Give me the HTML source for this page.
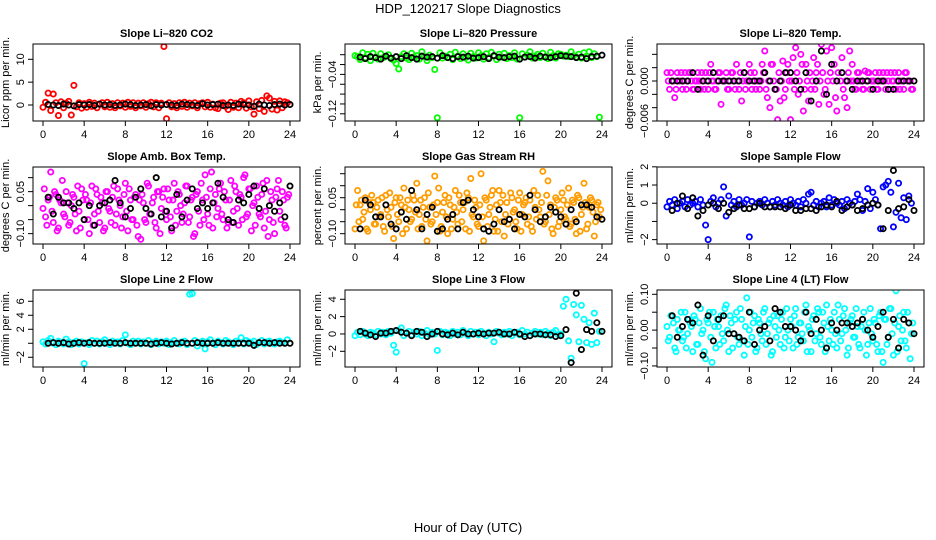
<!DOCTYPE html>
<html><head><meta charset="utf-8"><style>
html,body{margin:0;padding:0;background:#fff;}
svg{display:block;font-family:"Liberation Sans",sans-serif;}
</style></head><body>
<svg id="chart" width="936" height="540" viewBox="0 0 936 540" xmlns="http://www.w3.org/2000/svg">
<rect x="0" y="0" width="936" height="540" fill="#fff"/>
<text x="468" y="13" text-anchor="middle" font-size="13">HDP_120217  Slope Diagnostics</text>
<text x="468" y="532" text-anchor="middle" font-size="13">Hour of Day (UTC)</text>
</svg>
<script>
const hoursC = [0,0.25,0.5,0.75,1,1.25,1.5,1.75,2,2.25,2.5,2.75,3,3.25,3.5,3.75,4,4.25,4.5,4.75,5,5.25,5.5,5.75,6,6.25,6.5,6.75,7,7.25,7.5,7.75,8,8.25,8.5,8.75,9,9.25,9.5,9.75,10,10.25,10.5,10.75,11,11.25,11.5,11.75,12,12.25,12.5,12.75,13,13.25,13.5,13.75,14,14.25,14.5,14.75,15,15.25,15.5,15.75,16,16.25,16.5,16.75,17,17.25,17.5,17.75,18,18.25,18.5,18.75,19,19.25,19.5,19.75,20,20.25,20.5,20.75,21,21.25,21.5,21.75,22,22.25,22.5,22.75,23,23.25,23.5,23.75];
const hoursC2 = [0.125,0.375,0.625,0.875,1.125,1.375,1.625,1.875,2.125,2.375,2.625,2.875,3.125,3.375,3.625,3.875,4.125,4.375,4.625,4.875,5.125,5.375,5.625,5.875,6.125,6.375,6.625,6.875,7.125,7.375,7.625,7.875,8.125,8.375,8.625,8.875,9.125,9.375,9.625,9.875,10.125,10.375,10.625,10.875,11.125,11.375,11.625,11.875,12.125,12.375,12.625,12.875,13.125,13.375,13.625,13.875,14.125,14.375,14.625,14.875,15.125,15.375,15.625,15.875,16.125,16.375,16.625,16.875,17.125,17.375,17.625,17.875,18.125,18.375,18.625,18.875,19.125,19.375,19.625,19.875,20.125,20.375,20.625,20.875,21.125,21.375,21.625,21.875,22.125,22.375,22.625,22.875,23.125,23.375,23.625,23.875];
const hoursK = [0.5,1,1.5,2,2.5,3,3.5,4,4.5,5,5.5,6,6.5,7,7.5,8,8.5,9,9.5,10,10.5,11,11.5,12,12.5,13,13.5,14,14.5,15,15.5,16,16.5,17,17.5,18,18.5,19,19.5,20,20.5,21,21.5,22,22.5,23,23.5,24];
const xTicks = [0,4,8,12,16,20,24];

const co2C = [-0.5,0.6,2.6,-1.2,2.4,0.5,-2.3,0.7,-0.6,0.4,0.8,-2.2,4.3,-0.4,0.5,-0.7,0.3,-0.5,0.6,-0.3,0.4,-0.6,0.2,0.5,-0.4,0.6,-0.5,0.3,-0.6,0.5,-0.2,0.4,-0.5,0.6,-0.3,0.5,-0.6,0.4,-0.2,0.5,-0.5,0.3,0.6,-0.4,0.5,-0.6,0.4,12.8,-3.0,0.5,-0.4,0.3,-0.6,0.5,-0.3,0.6,-0.5,0.4,-0.2,0.5,-0.6,0.3,0.5,-0.4,0.6,-0.5,0.2,-0.6,-0.8,0.4,0.5,-0.3,-1.0,0.6,-0.5,0.4,-0.6,0.8,0.5,-0.7,0.9,-0.4,-2.0,0.7,-0.8,1.0,-1.4,2.0,1.5,-0.9,0.8,-1.1,0.9,-0.6,0.7,0.5];
const co2K = [0.1,0.0,-0.1,0.2,0.0,-0.2,0.1,0.0,0.1,-0.1,0.2,0.0,0.1,-0.1,0.0,0.2,0.1,-0.1,0.0,0.1,-0.2,0.1,0.0,0.1,0.0,-0.1,0.2,0.1,0.0,-0.1,0.3,0.0,0.1,0.2,-0.1,0.0,-0.1,0.2,0.1,0.0,-0.3,0.2,0.0,-0.1,0.1,0.2,0.0,0.1];
const presC = [-0.002,-0.004,-0.010,0.004,-0.006,0.001,-0.012,0.003,-0.005,-0.009,0.002,-0.006,-0.003,0.000,-0.008,-0.011,-0.018,-0.029,-0.004,0.002,-0.007,-0.010,0.003,-0.005,-0.002,-0.009,0.006,-0.004,-0.012,-0.001,-0.006,-0.030,-0.128,0.004,-0.007,-0.003,-0.005,0.001,-0.010,0.005,-0.003,-0.008,0.002,-0.006,-0.011,0.003,-0.004,-0.007,0.004,-0.002,-0.009,0.002,-0.006,0.005,-0.003,-0.010,0.001,-0.005,0.003,-0.008,-0.002,-0.006,0.004,-0.009,-0.128,0.002,-0.005,-0.001,0.006,-0.007,-0.003,0.001,-0.006,0.003,-0.004,-0.008,0.005,-0.002,-0.007,0.002,0.001,-0.003,-0.001,-0.004,0.006,-0.002,-0.005,0.001,-0.007,0.004,-0.003,0.006,-0.006,0.002,-0.004,-0.127];
const presK = [-0.005,-0.008,-0.004,-0.006,-0.009,-0.003,-0.007,-0.004,-0.008,-0.002,-0.006,-0.009,-0.003,-0.005,-0.004,-0.007,-0.002,-0.006,-0.008,-0.004,-0.005,-0.003,-0.007,-0.006,-0.004,-0.008,-0.002,-0.005,-0.006,-0.004,-0.003,-0.009,-0.005,-0.004,-0.007,-0.003,-0.005,-0.006,-0.004,-0.002,-0.003,-0.004,-0.006,-0.005,-0.008,-0.004,-0.003,-0.001];
const tempC = [0.00125,-0.00125,0,-0.0025,0.00125,0,-0.00125,0.00125,0,0.00125,-0.00125,0,0.00125,-0.00125,0,0.00125,-0.00125,0.0025,0,-0.00125,0.00125,-0.0035,0,0.00125,-0.00125,0.00125,0,0.0025,-0.00125,-0.003,0.00125,0,0.0025,-0.00125,0.00125,0,-0.00125,0.0025,0.0045,-0.0025,-0.004,0.0025,-0.00125,-0.0058,-0.003,0.003,-0.00125,0.0025,-0.0058,0.0035,0.005,-0.002,0.004,-0.0045,0.0025,-0.003,-0.00125,0.0035,0.00125,-0.0035,0.0055,-0.002,0.0045,-0.0035,0.005,0.0025,-0.0045,0.006,0.0035,-0.0025,-0.004,0.0045,0.0025,-0.00125,0.00125,0,-0.00125,0.0015,0.00125,-0.00125,0,0.00125,-0.00125,0,0.00125,-0.00125,0,0.00125,0,-0.00125,0.00125,0,-0.00125,0.00125,0,-0.00125];
const tempC2 = [0,0.00125,0,-0.00125,0,0.00125,0,-0.00125,0.00125,0,-0.00125,0,0,0.00125,-0.00125,0,0.00125,0,-0.00125,0,0.00125,0,0,-0.00125,0,0.00125,-0.00125,0,0.00125,0,-0.00125,0,0.00125,0,-0.00125,0,0,0.00125,-0.00125,0,0.0025,0,-0.00125,0.00125,0,-0.0025,0.00125,0,0,-0.00125,0.00125,0,0.0025,-0.00125,0,0.00125,0,-0.00125,0.0025,0,0.00125,-0.00125,0,0.00125,0,-0.0025,0.00125,0,-0.00125,0,0.00125,0,0,-0.00125,0.00125,0,-0.00125,0,0.00125,0,0,-0.00125,0.00125,0,0,0.00125,-0.00125,0,0.00125,0,-0.00125,0,0.00125,0,0,-0.00125];
const tempK = [0,0,0,0,0.00125,-0.00125,0,0,0.00125,0,0,0,0,0,0.00125,0,0,0,0.00125,0,-0.00125,0,0.00125,0.00125,0,-0.00125,0.00125,-0.003,0,0.0045,-0.002,0.0025,0,0.00125,0,-0.00125,0,0,0,-0.00125,0,0,-0.00125,-0.00125,0,0,0,0];
const ambC = [-0.01,-0.04,0.02,0.12,-0.06,0.04,-0.08,0.01,-0.03,0.05,-0.07,0.00,0.03,-0.09,-0.02,0.06,-0.05,0.02,-0.10,0.07,-0.03,0.04,-0.06,0.01,-0.08,0.05,-0.02,0.03,-0.07,0.06,0.00,-0.04,0.08,-0.09,0.02,-0.05,0.04,-0.11,-0.12,0.01,-0.06,0.07,-0.03,0.03,-0.08,0.05,-0.01,0.06,-0.05,0.02,-0.09,0.08,-0.02,0.04,-0.06,0.01,0.07,-0.04,0.03,-0.10,0.05,-0.07,0.02,0.11,-0.03,0.06,-0.08,0.04,-0.01,0.08,-0.05,0.02,-0.06,0.09,-0.02,0.05,-0.07,0.03,0.10,-0.04,0.06,-0.09,0.01,0.07,-0.03,0.04,-0.08,0.09,-0.05,0.02,-0.10,0.06,-0.02,0.05,-0.07,0.03];
const ambC2 = [0.06,-0.07,0.03,-0.02,0.05,-0.09,0.02,0.09,-0.04,0.01,-0.06,0.04,-0.03,0.07,-0.08,0.02,0.04,-0.05,0.01,-0.07,0.06,-0.02,0.03,-0.09,0.05,-0.01,-0.06,0.07,-0.03,0.02,-0.08,0.04,-0.02,0.06,-0.05,0.03,-0.07,0.02,0.04,-0.05,0.08,-0.03,0.01,-0.06,0.05,-0.10,0.03,-0.02,0.06,-0.04,0.02,-0.07,0.05,0.00,-0.03,0.07,-0.06,0.02,-0.11,0.04,-0.02,0.08,-0.05,0.03,-0.07,0.12,0.01,-0.04,0.06,-0.03,0.05,-0.08,0.02,-0.06,0.07,-0.01,0.04,-0.05,0.11,-0.03,0.06,0.00,-0.07,0.03,-0.04,0.08,-0.02,-0.11,0.05,-0.06,0.03,0.09,-0.05,0.02,-0.08,0.04];
const ambK = [0.03,-0.03,0.03,0.01,0.01,-0.01,0.01,-0.05,0.00,-0.07,0.00,0.01,0.02,0.09,0.01,-0.04,-0.01,0.03,0.06,-0.01,-0.03,0.10,-0.04,-0.02,-0.08,0.04,-0.04,0.02,0.06,-0.01,0.01,-0.01,0.01,0.08,0.03,-0.05,-0.06,0.02,0.01,0.04,0.07,-0.01,0.06,0.00,-0.02,0.01,-0.04,0.07];
const rhC = [-0.08,0.08,0.02,-0.04,0.05,-0.09,0.00,0.03,-0.06,0.04,-0.02,-0.07,0.06,-0.03,0.01,-0.12,0.05,-0.05,0.02,0.09,-0.08,0.00,-0.04,0.04,0.11,-0.02,-0.07,0.05,-0.13,0.01,-0.05,0.14,0.03,-0.09,-0.01,0.06,-0.10,0.02,-0.04,0.08,-0.06,0.03,0.00,-0.08,0.05,0.13,-0.03,0.01,-0.07,0.15,-0.13,0.04,-0.02,0.06,-0.09,0.02,0.08,-0.05,-0.11,0.03,-0.04,0.05,0.00,-0.08,0.07,-0.02,0.03,-0.06,0.04,-0.09,0.01,0.06,-0.03,0.16,-0.05,0.12,0.02,-0.10,0.05,-0.07,0.00,0.04,-0.04,0.09,-0.06,0.03,-0.10,0.05,-0.02,0.11,-0.08,0.01,0.04,-0.11,0.02,-0.03];
const rhC2 = [0.02,-0.05,0.04,-0.01,-0.08,0.03,0.06,-0.06,0.01,-0.03,0.05,-0.09,0.00,0.07,-0.07,0.03,-0.02,0.05,-0.10,0.01,0.04,-0.05,0.06,-0.01,-0.08,0.04,0.01,-0.04,0.07,-0.06,0.02,-0.02,0.09,-0.07,0.03,-0.03,0.05,-0.08,0.01,-0.01,0.06,-0.05,0.03,0.07,-0.09,-0.02,0.04,-0.06,0.02,-0.03,0.05,-0.07,0.01,0.08,-0.04,-0.09,0.03,0.06,-0.02,-0.06,0.07,-0.01,-0.05,0.04,-0.09,0.02,0.05,-0.03,-0.07,0.08,-0.04,0.00,0.03,-0.06,0.06,-0.02,-0.08,0.01,0.04,-0.05,0.07,-0.03,0.02,-0.07,0.04,-0.04,0.06,-0.09,0.01,0.03,-0.06,0.05,-0.01,-0.05,0.03,0.00];
const rhK = [-0.08,0.04,0.02,-0.03,-0.03,0.02,-0.06,-0.08,-0.01,-0.04,0.08,0.00,-0.08,-0.02,0.01,-0.09,-0.08,-0.04,-0.02,-0.08,0.03,0.04,0.00,-0.03,-0.08,-0.09,-0.06,0.00,-0.05,-0.04,-0.08,-0.02,-0.03,0.06,0.00,-0.05,-0.03,0.01,-0.01,-0.03,-0.06,0.00,-0.05,0.02,0.02,0.01,-0.03,-0.04];
const sampleC = [-0.2,0.1,-0.1,0.2,-0.3,0.0,0.1,-0.2,0.2,-0.1,0.0,0.1,-0.2,0.2,-0.1,-1.2,-2.0,0.1,0.3,-0.2,0.0,0.2,0.9,-0.7,0.4,-0.1,0.1,-0.2,0.2,-0.1,0.0,0.2,-1.85,0.1,-0.2,0.0,0.1,-0.1,0.2,0.0,-0.2,0.1,-0.1,0.2,0.0,-0.1,0.1,-0.2,0.2,0.0,-0.1,0.1,-0.2,0.2,0.0,0.5,0.6,-0.1,0.1,-0.2,0.0,0.1,-0.2,0.3,-0.1,0.2,0.0,-0.1,0.1,-0.3,0.2,0.0,-0.1,0.1,0.5,0.2,-0.4,0.1,0.8,-0.3,0.6,0.2,-0.1,-1.4,0.9,1.0,1.2,0.6,-1.3,-0.5,1.1,-0.8,0.3,-0.9,0.4,0.0];
const sampleK = [-0.4,0.0,0.4,-0.3,0.3,-0.7,-0.4,-0.1,0.0,-0.3,0.0,-0.5,-0.3,-0.1,-0.3,-0.3,-0.2,0.0,-0.2,-0.2,-0.2,-0.2,-0.3,-0.1,-0.4,-0.4,-0.3,-0.3,-0.4,-0.2,-0.1,-0.2,0.1,-0.4,-0.2,-0.1,-0.4,-0.3,-0.1,0.0,-0.1,-1.4,-0.4,1.8,-0.3,-0.2,0.2,-0.4];
const line2C = [0.2,-0.1,0.4,0.7,0.0,-0.2,0.3,0.1,-0.1,0.6,0.2,-0.2,0.1,0.3,-0.1,0.2,-2.9,0.1,-0.2,0.4,0.0,0.3,-0.1,0.2,0.5,0.0,-0.2,0.3,0.1,0.2,-0.1,0.4,1.2,0.0,-0.2,0.3,0.1,0.3,-0.1,0.2,0.0,0.4,-0.2,0.1,0.3,-0.1,0.2,0.0,0.3,-0.2,0.1,0.4,0.0,-0.1,0.2,0.3,-0.2,7.0,7.1,0.4,-0.4,0.1,0.3,-0.8,0.2,0.5,0.0,-0.2,0.3,0.1,-0.1,0.4,0.2,0.0,-0.2,0.3,0.1,0.8,-0.1,0.4,0.2,0.0,0.3,-0.2,0.1,0.4,-0.1,0.2,0.3,0.0,-0.1,0.2,0.3,0.1,0.0,0.5];
const line2K = [0.0,0.1,0.0,0.1,-0.1,0.0,0.1,0.0,0.1,0.0,0.0,0.0,0.1,0.0,0.0,0.1,0.0,0.0,0.0,0.0,-0.1,0.0,0.1,0.0,-0.1,0.0,0.1,0.0,0.0,0.1,0.0,0.0,0.0,0.1,0.0,0.0,0.0,0.0,0.0,0.0,-0.3,0.1,0.1,0.0,0.1,0.0,0.0,0.0];
const line3C = [-0.2,0.2,-0.1,0.3,0.0,-0.2,0.2,0.1,-0.1,0.3,0.0,0.2,-0.1,0.3,0.1,-1.3,-2.1,0.4,0.7,-0.2,0.1,0.3,-0.1,0.2,0.0,0.3,-0.2,0.1,0.4,-0.1,0.2,0.0,-1.9,0.3,-0.1,0.2,0.1,-0.2,0.3,0.0,0.2,-0.1,0.4,0.1,-0.2,0.3,0.0,0.2,-0.1,0.3,0.1,-0.2,0.2,0.0,-0.9,0.3,0.1,-0.1,0.2,0.0,0.3,-0.2,0.1,0.2,-0.1,0.4,0.0,0.2,-0.2,0.1,0.3,0.0,0.2,-0.1,0.3,0.1,-0.2,0.2,0.4,-0.1,0.0,3.2,4.0,-0.8,-2.8,3.4,2.2,-0.9,3.3,1.7,-1.0,1.3,-1.2,2.4,-1.0,0.3];
const line3K = [0.3,0.1,-0.1,-0.3,0.1,0.1,0.3,0.4,0.2,0.1,-0.2,0.3,0.2,-0.3,0.0,0.3,0.0,-0.1,0.1,-0.1,0.2,0.0,0.0,0.1,0.0,0.1,0.1,0.2,0.0,0.0,0.2,0.0,-0.3,-0.2,0.0,0.0,-0.1,-0.1,-0.3,-0.2,0.5,-3.3,4.7,-1.8,0.5,0.3,1.3,0.3];
const line4C = [0.01,-0.02,0.04,-0.05,0.03,0.00,-0.03,0.05,-0.01,0.02,-0.06,0.03,-0.04,0.06,0.00,-0.08,0.02,-0.02,0.05,-0.05,0.01,0.04,-0.03,0.07,-0.06,0.02,-0.01,0.05,-0.04,0.03,-0.07,0.09,0.00,-0.02,0.04,-0.05,0.02,-0.03,0.06,-0.01,0.03,-0.06,0.01,0.04,-0.04,0.05,-0.02,0.00,0.03,-0.05,0.06,-0.02,0.02,-0.03,0.07,0.01,-0.06,0.04,-0.01,0.05,-0.04,0.02,0.07,-0.03,0.00,0.05,-0.05,0.03,-0.01,0.06,-0.07,0.02,0.04,-0.02,0.01,-0.05,0.03,0.00,-0.04,0.06,-0.03,0.02,-0.06,0.05,-0.09,0.03,-0.02,0.06,-0.07,0.11,0.01,-0.03,0.05,-0.05,0.02,-0.01];
const line4C2 = [-0.03,0.04,0.02,-0.06,0.00,0.05,-0.02,-0.05,0.03,0.01,0.04,-0.04,0.02,-0.01,-0.06,0.03,0.05,-0.09,0.01,0.03,-0.04,-0.01,0.06,0.00,0.04,-0.05,0.03,-0.02,0.06,-0.03,0.01,-0.04,0.05,0.02,-0.06,0.03,-0.01,0.05,-0.04,0.02,-0.07,0.04,-0.02,0.00,0.03,-0.05,0.06,-0.03,0.01,0.04,-0.04,0.02,-0.01,0.05,-0.06,0.00,0.03,-0.03,0.06,-0.02,0.05,-0.06,0.01,0.03,-0.04,-0.01,0.07,-0.03,0.04,0.00,-0.05,0.03,-0.02,0.06,-0.04,0.01,0.05,-0.07,0.02,-0.01,0.03,-0.04,0.04,-0.06,0.03,-0.04,0.06,-0.01,0.02,-0.06,0.04,0.00,-0.03,0.05,-0.08,0.02];
const line4K = [0.04,-0.02,0.01,0.03,0.02,0.07,-0.07,0.04,-0.03,0.03,0.04,-0.01,-0.01,-0.02,-0.03,0.05,-0.04,0.00,0.01,-0.03,0.06,0.05,0.01,0.01,0.00,-0.03,0.05,-0.01,0.03,0.00,-0.05,0.02,0.00,0.02,0.02,0.01,0.02,0.03,0.00,-0.02,0.01,0.05,-0.02,0.03,-0.05,0.03,0.02,-0.01];

const panels = [
 {name:'co2',title:'Slope Li\u2013820 CO2',ylab:'Licor ppm per min.',col:0,row:0,dom:[13.35,-3.5],ticks:[0,5,10],labels:['0','5','10'],color:'#ff0000',series:[[hoursC,co2C]],black:co2K},
 {name:'pressure',title:'Slope Li\u2013820 Pressure',ylab:'kPa per min.',col:1,row:0,dom:[0.0217,-0.1346],ticks:[0,-0.02,-0.04,-0.06,-0.08,-0.1,-0.12],labels:['','','\u22120.04','','','','\u22120.12'],color:'#00ff00',series:[[hoursC,presC]],black:presK},
 {name:'temp',title:'Slope Li\u2013820 Temp.',ylab:'degrees C per min.',col:2,row:0,dom:[0.00555,-0.006],ticks:[0.004,0.002,0,-0.002,-0.004,-0.006],labels:['','','0.000','','','\u22120.006'],color:'#ff00ff',series:[[hoursC,tempC],[hoursC2,tempC2]],black:tempK},
 {name:'amb-box-temp',title:'Slope Amb. Box Temp.',ylab:'degrees C per min.',col:0,row:1,dom:[0.138,-0.137],ticks:[0.1,0.05,0,-0.05,-0.1],labels:['','0.05','','','\u22120.10'],color:'#ff00ff',series:[[hoursC,ambC],[hoursC2,ambC2]],black:ambK},
 {name:'gas-stream-rh',title:'Slope Gas Stream RH',ylab:'percent per min.',col:1,row:1,dom:[0.178,-0.143],ticks:[0.15,0.1,0.05,0,-0.05,-0.1],labels:['','','0.05','','','\u22120.10'],color:'#ff9c00',series:[[hoursC,rhC],[hoursC2,rhC2]],black:rhK},
 {name:'sample-flow',title:'Slope Sample Flow',ylab:'ml/min per min.',col:2,row:1,dom:[1.99,-2.24],ticks:[2,1,0,-1,-2],labels:['2','1','0','','\u22122'],color:'#0000ff',series:[[hoursC,sampleC]],black:sampleK},
 {name:'line2-flow',title:'Slope Line 2 Flow',ylab:'ml/min per min.',col:0,row:2,dom:[7.61,-3.39],ticks:[6,4,2,0,-2],labels:['6','4','2','','\u22122'],color:'#00ffff',series:[[hoursC,line2C]],black:line2K},
 {name:'line3-flow',title:'Slope Line 3 Flow',ylab:'ml/min per min.',col:1,row:2,dom:[5.07,-3.81],ticks:[4,2,0,-2],labels:['4','2','0','\u22122'],color:'#00ffff',series:[[hoursC,line3C]],black:line3K},
 {name:'line4-flow',title:'Slope Line 4 (LT) Flow',ylab:'ml/min per min.',col:2,row:2,dom:[0.112,-0.103],ticks:[0.1,0.05,0,-0.05,-0.1],labels:['0.10','','0.00','','\u22120.10'],color:'#00ffff',series:[[hoursC,line4C],[hoursC2,line4C2]],black:line4K}
];

const NS='http://www.w3.org/2000/svg';
const svg=document.getElementById('chart');
const colX0=[43,355,667], XW=247, rowTop=[44,167,290], BH=77;
function mk(tag,attrs,parent){const e=document.createElementNS(NS,tag);for(const k in attrs)e.setAttribute(k,attrs[k]);(parent||svg).appendChild(e);return e;}

panels.forEach(p=>{
  const g=mk('g',{});
  
  
  const x0=colX0[p.col], top=rowTop[p.row], bot=top+BH;
  const xs=h=>x0+h/24*XW;
  const ys=v=>top+(p.dom[0]-v)/(p.dom[0]-p.dom[1])*BH;
  const plotL=x0-10, plotR=x0+XW+10;
  const t=mk('text',{x:(plotL+plotR)/2,y:top-7,'text-anchor':'middle','font-size':'11','font-weight':'bold'},g);
  t.textContent=p.title;
  
  
  const yl=mk('text',{x:0,y:0,'text-anchor':'middle','font-size':'11',transform:'translate('+(plotL-24)+','+(top+BH/2)+') rotate(-90)'},g);
  yl.textContent=p.ylab;
  
  
  mk('line',{x1:xs(xTicks[0]),x2:xs(xTicks[xTicks.length-1]),y1:bot,y2:bot,stroke:'#000','stroke-width':1},g);
  xTicks.forEach(h=>{
    mk('line',{x1:xs(h),x2:xs(h),y1:bot,y2:bot+5,stroke:'#000','stroke-width':1},g);
    const tl=mk('text',{x:xs(h),y:bot+17,'text-anchor':'middle','font-size':'11'},g);
    tl.textContent=String(h);
    
    
  });
  p.ticks.forEach((v,i)=>{
    const yy=ys(v);
    mk('line',{x1:plotL-5,x2:plotL,y1:yy,y2:yy,stroke:'#000','stroke-width':1},g);
    if(p.labels[i]){
      const tl=mk('text',{x:0,y:0,'text-anchor':'middle','font-size':'11',transform:'translate('+(plotL-9)+','+yy+') rotate(-90)'},g);
      tl.textContent=p.labels[i];
      
      
    }
  });
  const clipId='clip-'+p.name;
  const cp=mk('clipPath',{id:clipId},g);
  mk('rect',{x:plotL,y:top,width:plotR-plotL,height:BH},cp);
  const pts=mk('g',{'clip-path':'url(#'+clipId+')'},g);
  p.series.forEach(s=>{
    const hs=s[0], vals=s[1];
    vals.forEach((v,i)=>{
      if(hs[i]===undefined)return;
      const c=mk('circle',{cx:xs(hs[i]),cy:ys(v),r:2.6,fill:'none',stroke:p.color,'stroke-width':1.8},pts);
      
      
    });
  });
  p.black.forEach((v,i)=>{
    if(hoursK[i]===undefined)return;
    const c=mk('circle',{cx:xs(hoursK[i]),cy:ys(v),r:2.6,fill:'none',stroke:'#000','stroke-width':1.8},pts);
    
    
  });
  const box=mk('rect',{x:plotL,y:top,width:plotR-plotL,height:BH,fill:'none',stroke:'#000','stroke-width':1},g);
  
  
});
</script>
</body></html>
